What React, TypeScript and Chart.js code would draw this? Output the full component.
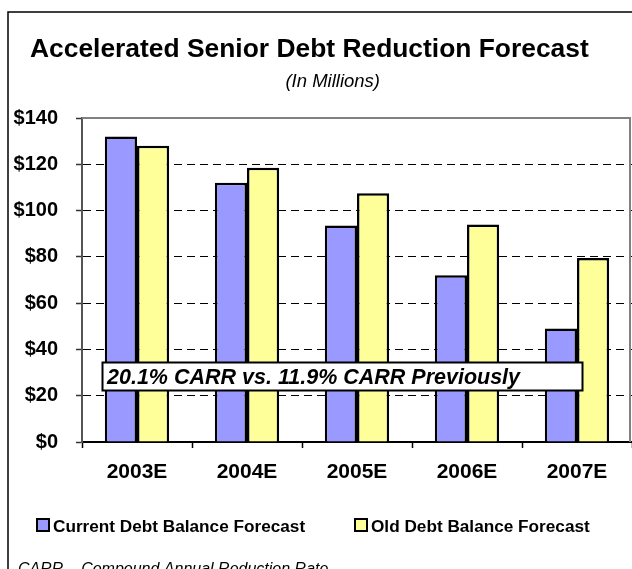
import React, { useEffect, useRef } from "react";
import { Chart, registerables } from "chart.js";

Chart.register(...registerables);

const categories = ["2003E", "2004E", "2005E", "2006E", "2007E"];
const currentDebt = [132, 112, 93.5, 72, 49];
const oldDebt = [128, 118.5, 107.5, 94, 79.5];
const yTicks = [0, 20, 40, 60, 80, 100, 120, 140];
const seriesLabels = ["Current Debt Balance Forecast", "Old Debt Balance Forecast"];
const titleText = "Accelerated Senior Debt Reduction Forecast";
const subtitleText = "(In Millions)";
const calloutText = "20.1% CARR vs. 11.9% CARR Previously";
const footnoteText = "CARR \u2013 Compound Annual Reduction Rate";

const FONT = '"Liberation Sans", Arial, Helvetica, sans-serif';
const BLUE = "#9999FF";
const YELLOW = "#FFFF99";

const decorPlugin = {
  id: "decor",
  afterDraw(chart: any) {
    const ctx = chart.ctx;
    const area = chart.chartArea;
    const yScale = chart.scales.y;
    ctx.save();
    // outer frame
    ctx.strokeStyle = "#000";
    ctx.lineWidth = 1.5;
    ctx.beginPath();
    ctx.moveTo(8, 600);
    ctx.lineTo(8, 12);
    ctx.lineTo(640, 12);
    ctx.stroke();

    // plot area border (top & right)
    const topY = yScale.getPixelForValue(140);
    ctx.strokeStyle = "#808080";
    ctx.lineWidth = 2;
    ctx.beginPath();
    ctx.moveTo(area.left, topY);
    ctx.lineTo(630, topY);
    ctx.lineTo(630, area.bottom);
    ctx.stroke();

    // title
    ctx.fillStyle = "#000";
    ctx.textBaseline = "alphabetic";
    ctx.textAlign = "left";
    ctx.font = `bold 26.4px ${FONT}`;
    ctx.fillText(titleText, 30, 57);
    ctx.textAlign = "right";
    ctx.font = `italic 18.5px ${FONT}`;
    ctx.fillText(subtitleText, 380, 86.5);

    // callout box
    const bx = 102.5, by = 362.5, bw = 480, bh = 28;
    ctx.fillStyle = "#fff";
    ctx.fillRect(bx, by, bw, bh);
    ctx.strokeStyle = "#000";
    ctx.lineWidth = 2;
    ctx.strokeRect(bx, by, bw, bh);
    ctx.fillStyle = "#000";
    ctx.textAlign = "left";
    ctx.font = `italic bold 21.5px ${FONT}`;
    ctx.fillText(calloutText, 107, 383.5);

    // legend
    const legendItems = [
      { label: seriesLabels[0], color: BLUE, boxX: 37, textX: 53 },
      { label: seriesLabels[1], color: YELLOW, boxX: 355, textX: 371 },
    ];
    ctx.font = `bold 17.2px ${FONT}`;
    legendItems.forEach((it) => {
      ctx.fillStyle = it.color;
      ctx.fillRect(it.boxX, 519, 12, 12);
      ctx.strokeStyle = "#000";
      ctx.lineWidth = 2;
      ctx.strokeRect(it.boxX, 519, 12, 12);
      ctx.fillStyle = "#000";
      ctx.fillText(it.label, it.textX, 531.5);
    });

    // footnote
    ctx.font = `italic 16px ${FONT}`;
    ctx.fillText(footnoteText, 18, 574);
    ctx.restore();
  },
};

export default function App() {
  const canvasRef = useRef<HTMLCanvasElement | null>(null);

  useEffect(() => {
    if (!canvasRef.current) return;
    const chart = new Chart(canvasRef.current, {
      type: "bar",
      data: {
        labels: categories,
        datasets: [
          {
            label: seriesLabels[0],
            data: currentDebt,
            backgroundColor: BLUE,
            borderColor: "#000",
            borderWidth: 2.5,
            categoryPercentage: 0.585,
            barPercentage: 1,
          },
          {
            label: seriesLabels[1],
            data: oldDebt,
            backgroundColor: YELLOW,
            borderColor: "#000",
            borderWidth: 2.5,
            categoryPercentage: 0.585,
            barPercentage: 1,
          },
        ],
      },
      options: {
        animation: false,
        responsive: false,
        maintainAspectRatio: false,
        devicePixelRatio: 1,
        layout: { padding: { top: 118, left: 0, right: 0, bottom: 0 } },
        plugins: {
          legend: { display: false },
          title: { display: false },
          tooltip: { enabled: false },
        },
        scales: {
          x: {
            grid: {
              display: true,
              drawOnChartArea: false,
              drawTicks: true,
              tickLength: 6,
              tickColor: "#000",
              tickWidth: 1.5,
              offset: true,
            },
            border: { display: true, color: "#000", width: 2 },
            ticks: {
              color: "#000",
              font: { family: FONT, size: 21, weight: "bold" },
              padding: 12,
              maxRotation: 0,
            },
            afterFit: (s: any) => {
              s.height = 127;
            },
          },
          y: {
            min: 0,
            max: 140,
            afterBuildTicks: (s: any) => {
              s.ticks = yTicks.map((v) => ({ value: v }));
            },
            grid: {
              display: true,
              drawOnChartArea: true,
              color: (c: any) =>
                c.tick && (c.tick.value === 0 || c.tick.value === 140) ? "rgba(0,0,0,0)" : "#000",
              lineWidth: 1,
              drawTicks: true,
              tickLength: 6,
              tickColor: "#333",
              tickWidth: 1.5,
            },
            border: { display: true, color: "#555", width: 2, dash: [8, 5] },
            ticks: {
              color: "#000",
              font: { family: FONT, size: 20, weight: "bold" },
              padding: 18,
              callback: (v: any) => "$" + v,
            },
            afterFit: (s: any) => {
              s.width = 82;
            },
          },
        },
      },
      plugins: [decorPlugin],
    });
    return () => chart.destroy();
  }, []);

  return (
    <div style={{ position: "fixed", left: 0, top: 0, width: 632, height: 569, background: "#fff" }}>
      <canvas ref={canvasRef} width={632} height={569} style={{ width: 632, height: 569, display: "block" }} />
    </div>
  );
}
